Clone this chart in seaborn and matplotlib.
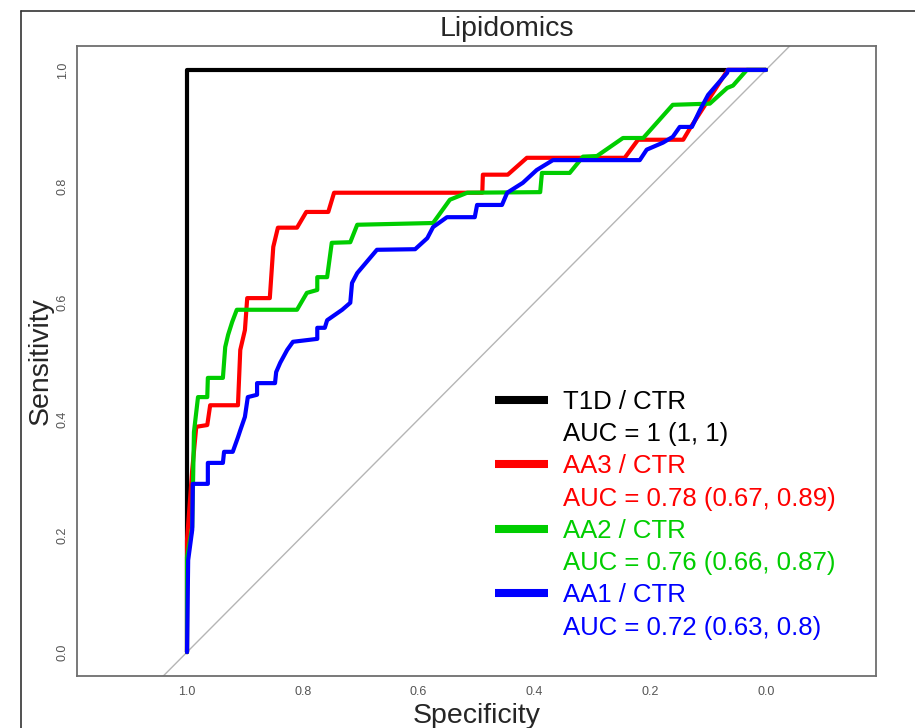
import numpy as np
import pandas as pd
import matplotlib
matplotlib.use('Agg')
import matplotlib.pyplot as plt
from matplotlib.lines import Line2D
import seaborn as sns

# --- ROC curves (specificity, sensitivity) ---
t1d_spec = [1.000, 1.000, 0.000]
t1d_sens = [0.000, 1.000, 1.000]

aa3_spec = [1.000, 1.000, 0.991, 0.984, 0.965, 0.960, 0.912, 0.908, 0.900, 0.896,
            0.857, 0.851, 0.843, 0.810, 0.794, 0.756, 0.746, 0.490, 0.489, 0.446,
            0.413, 0.244, 0.221, 0.143, 0.131, 0.066, 0.000]
aa3_sens = [0.000, 0.192, 0.313, 0.387, 0.390, 0.424, 0.424, 0.519, 0.553, 0.608,
            0.608, 0.696, 0.729, 0.729, 0.756, 0.756, 0.789, 0.789, 0.820, 0.820,
            0.849, 0.849, 0.880, 0.880, 0.900, 1.000, 1.000]

aa2_spec = [1.000, 1.000, 0.991, 0.988, 0.981, 0.965, 0.964, 0.938, 0.934, 0.929,
            0.922, 0.914, 0.810, 0.793, 0.775, 0.775, 0.758, 0.750, 0.718, 0.706,
            0.575, 0.546, 0.516, 0.390, 0.387, 0.339, 0.316, 0.292, 0.247, 0.212,
            0.161, 0.097, 0.067, 0.057, 0.033, 0.000]
aa2_sens = [0.000, 0.163, 0.215, 0.378, 0.438, 0.438, 0.471, 0.471, 0.524, 0.545,
            0.567, 0.588, 0.588, 0.617, 0.622, 0.644, 0.644, 0.703, 0.704, 0.734,
            0.737, 0.777, 0.789, 0.790, 0.823, 0.823, 0.851, 0.852, 0.883, 0.883,
            0.940, 0.942, 0.969, 0.973, 1.000, 1.000]

aa1_spec = [1.000, 0.998, 0.991, 0.990, 0.964, 0.964, 0.938, 0.936, 0.921, 0.912,
            0.908, 0.900, 0.895, 0.879, 0.879, 0.848, 0.846, 0.839, 0.827, 0.817,
            0.775, 0.775, 0.762, 0.758, 0.732, 0.718, 0.715, 0.706, 0.672, 0.606,
            0.585, 0.575, 0.551, 0.503, 0.499, 0.456, 0.447, 0.420, 0.396, 0.368,
            0.218, 0.206, 0.178, 0.161, 0.149, 0.128, 0.114, 0.100, 0.067, 0.066,
            0.000]
aa1_sens = [0.000, 0.158, 0.210, 0.289, 0.289, 0.325, 0.325, 0.344, 0.344, 0.369,
            0.381, 0.404, 0.438, 0.442, 0.462, 0.462, 0.481, 0.497, 0.519, 0.533,
            0.538, 0.557, 0.557, 0.570, 0.588, 0.600, 0.634, 0.651, 0.691, 0.692,
            0.711, 0.730, 0.747, 0.747, 0.768, 0.768, 0.789, 0.806, 0.828, 0.845,
            0.845, 0.863, 0.875, 0.885, 0.902, 0.902, 0.931, 0.957, 0.995, 1.000,
            1.000]

curve_names = ['T1D / CTR', 'AA3 / CTR', 'AA2 / CTR', 'AA1 / CTR']
auc_labels = ['AUC = 1 (1, 1)', 'AUC = 0.78 (0.67, 0.89)',
              'AUC = 0.76 (0.66, 0.87)', 'AUC = 0.72 (0.63, 0.8)']
curve_colors = ['#000000', '#FF0000', '#00CD00', '#0000FF']

tick_values = [1.0, 0.8, 0.6, 0.4, 0.2, 0.0]
tick_labels = ['1.0', '0.8', '0.6', '0.4', '0.2', '0.0']

# long-form table, one block per curve, kept in path order
curves = [(t1d_spec, t1d_sens), (aa3_spec, aa3_sens), (aa2_spec, aa2_sens), (aa1_spec, aa1_sens)]
df = pd.concat([
    pd.DataFrame({'curve': name, 'spec': s, 'sens': t})
    for name, (s, t) in zip(curve_names, curves)
], ignore_index=True)

sns.set_style('white')
plt.rcParams['font.family'] = ['Liberation Sans', 'DejaVu Sans']

fig = plt.figure(figsize=(9.15, 7.28), dpi=100)
ax = fig.add_axes([77 / 915, 52 / 728, 799 / 915, 630 / 728])

# chance diagonal
ax.axline((1, 0), (0, 1), color='#b5b5b5', lw=1.0, zorder=0.5)

sns.lineplot(data=df, x='spec', y='sens', hue='curve', hue_order=curve_names,
             palette=dict(zip(curve_names, curve_colors)), sort=False,
             estimator=None, linewidth=3.0, legend=False, ax=ax)

ax.set_xlim(1.19, -0.19)
ax.set_ylim(-0.041, 1.041)
ax.set_xticks(tick_values)
ax.set_xticklabels(tick_labels)
ax.set_yticks(tick_values)
ax.set_yticklabels(tick_labels)
ax.tick_params(direction='out', length=3, width=1, color='#666666',
               labelsize=9, labelcolor='#555555')
ax.tick_params(axis='x', pad=4)
ax.tick_params(axis='y', pad=3)
plt.setp(ax.get_yticklabels(), rotation=90, va='center')

for sp in ax.spines.values():
    sp.set_color('#6e6e6e')
    sp.set_linewidth(1.3)

ax.set_xlabel('Specificity', fontsize=20.5, labelpad=3.5)
ax.set_ylabel('Sensitivity', fontsize=20.5, labelpad=2)
fig.text(507 / 915, 1 - 29 / 728, 'Lipidomics', ha='center', va='center', fontsize=20.5)

# outer frame (top and left edges visible in the reference)
fig.add_artist(Line2D([21 / 915, 21 / 915], [0, 1 - 11 / 728], transform=fig.transFigure,
                      color='#333333', lw=1.2))
fig.add_artist(Line2D([21 / 915, 1], [1 - 11 / 728, 1 - 11 / 728], transform=fig.transFigure,
                      color='#333333', lw=1.2))

# legend: coloured swatch beside the name, AUC on the next row
handles, labels, text_colors = [], [], []
for name, auc, col in zip(curve_names, auc_labels, curve_colors):
    handles.append(Line2D([], [], color=col, lw=5.8, solid_capstyle='butt'))
    labels.append(name)
    handles.append(Line2D([], [], color='none'))
    labels.append(auc)
    text_colors += [col, col]

leg = fig.legend(handles, labels, loc='upper left',
                 bbox_to_anchor=(495 / 915, 1 - 390 / 728), frameon=False,
                 fontsize=18.5, handlelength=2.06, handletextpad=0.58,
                 labelspacing=0.32, borderpad=0, borderaxespad=0)
for txt, col in zip(leg.get_texts(), text_colors):
    txt.set_color(col)

fig.savefig('out.png', dpi=100)
